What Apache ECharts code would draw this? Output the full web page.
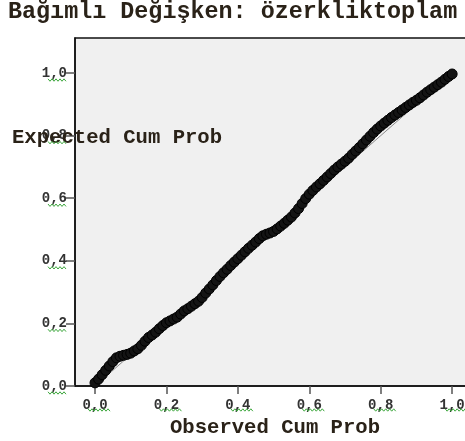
<!DOCTYPE html>
<html>
<head>
<meta charset="utf-8">
<script src="https://cdn.jsdelivr.net/npm/echarts@6/dist/echarts.min.js"></script>
<style>
  html, body { margin: 0; padding: 0; background: #fff; }
  #pp { width: 465px; height: 441px; }
</style>
</head>
<body>
<div id="pp"></div>
<script>
  // observed cum prob (x) / expected cum prob (y)
  var observed = [0.00,0.01,0.02,0.03,0.04,0.05,0.06,0.07,0.08,0.09,
    0.10,0.11,0.12,0.13,0.14,0.15,0.16,0.17,0.18,0.19,
    0.20,0.21,0.22,0.23,0.24,0.25,0.26,0.27,0.28,0.29,
    0.30,0.31,0.32,0.33,0.34,0.35,0.36,0.37,0.38,0.39,
    0.40,0.41,0.42,0.43,0.44,0.45,0.46,0.47,0.48,0.49,
    0.50,0.51,0.52,0.53,0.54,0.55,0.56,0.57,0.58,0.59,
    0.60,0.61,0.62,0.63,0.64,0.65,0.66,0.67,0.68,0.69,
    0.70,0.71,0.72,0.73,0.74,0.75,0.76,0.77,0.78,0.79,
    0.80,0.81,0.82,0.83,0.84,0.85,0.86,0.87,0.88,0.89,
    0.90,0.91,0.92,0.93,0.94,0.95,0.96,0.97,0.98,0.99,1.00];
  var expected = [0.010,0.022,0.036,0.050,0.064,0.078,0.090,0.095,0.098,0.101,
    0.105,0.112,0.119,0.130,0.143,0.155,0.163,0.172,0.183,0.193,
    0.202,0.208,0.214,0.220,0.230,0.240,0.247,0.255,0.263,0.271,
    0.283,0.297,0.310,0.323,0.337,0.350,0.362,0.373,0.385,0.396,
    0.407,0.418,0.429,0.440,0.450,0.460,0.471,0.480,0.485,0.489,
    0.494,0.502,0.511,0.520,0.530,0.540,0.553,0.567,0.583,0.599,
    0.613,0.625,0.636,0.646,0.657,0.668,0.679,0.690,0.700,0.709,
    0.718,0.728,0.740,0.751,0.762,0.774,0.786,0.798,0.810,0.821,
    0.831,0.840,0.849,0.858,0.866,0.874,0.882,0.890,0.898,0.906,
    0.913,0.921,0.930,0.939,0.947,0.955,0.963,0.971,0.980,0.989,0.997];
  var refX = [0, 1];
  var refY = [0, 1];
  var xTicks = [0, 0.2, 0.4, 0.6, 0.8, 1.0];
  var yTicks = [0, 0.2, 0.4, 0.6, 0.8, 1.0];

  var mono = 'Liberation Mono';
  var ink = '#2a2218';

  var pts = observed.map(function (v, i) { return [v, expected[i]]; });
  var refLine = refX.map(function (v, i) { return [v, refY[i]]; });

  function fmt(v) { return v.toFixed(1).replace('.', ','); }

  var chart = echarts.init(document.getElementById('pp'));
  var option = {
    animation: false,
    title: [
      {
        text: 'Bağımlı Değişken: özerkliktoplam',
        left: 3, top: -4,
        textStyle: { fontFamily: mono, fontWeight: 'bold', fontSize: 23.4, color: ink }
      },
      {
        text: 'Expected Cum Prob',
        left: 7, top: 122,
        textStyle: { fontFamily: mono, fontWeight: 'bold', fontSize: 20.6, color: ink }
      }
    ],
    grid: {
      left: 75, top: 38, width: 400, height: 348,
      outerBoundsMode: 'none',
      show: true,
      backgroundColor: '#f0f0f0',
      borderColor: '#111',
      borderWidth: 1.5
    },
    xAxis: {
      type: 'value',
      min: -0.056, max: 1.064,
      name: 'Observed Cum Prob',
      nameLocation: 'middle',
      nameGap: 31,
      nameTextStyle: { fontFamily: mono, fontWeight: 'bold', fontSize: 20.6, color: ink },
      axisLine: { show: true, onZero: false, lineStyle: { color: '#111', width: 1.5 } },
      axisTick: { show: true, length: 8, customValues: xTicks, lineStyle: { color: '#555', width: 1.5 } },
      axisLabel: {
        customValues: xTicks, margin: 12, formatter: fmt,
        fontFamily: mono, fontWeight: 'bold', fontSize: 14, color: '#333'
      },
      splitLine: { show: false }
    },
    yAxis: {
      type: 'value',
      min: 0, max: 1.112,
      axisLine: { show: true, onZero: false, lineStyle: { color: '#111', width: 1.5 } },
      axisTick: { show: true, length: 9, customValues: yTicks, lineStyle: { color: '#555', width: 1.5 } },
      axisLabel: {
        customValues: yTicks, margin: 8, formatter: fmt,
        fontFamily: mono, fontWeight: 'bold', fontSize: 14, color: '#333'
      },
      splitLine: { show: false }
    },
    series: [
      {
        type: 'line',
        data: refLine,
        showSymbol: false,
        lineStyle: { color: '#8a8a8a', width: 1 },
        z: 1
      },
      {
        type: 'scatter',
        data: pts,
        symbolSize: 10,
        itemStyle: { color: '#141414', borderColor: '#000', borderWidth: 1, opacity: 1 },
        z: 2
      }
    ]
  };
  chart.setOption(option);

  // green spell-check squiggles under the ",0" part of the tick labels
  function squiggle(x0, x1, y) {
    var p = [], up = true;
    for (var x = x0; x <= x1; x += 2) {
      p.push([x, y + (up ? -1.2 : 1.2)]);
      up = !up;
    }
    return {
      type: 'polyline',
      shape: { points: p },
      style: { stroke: '#3aa53a', lineWidth: 1, fill: null },
      silent: true, z: 10
    };
  }
  var marks = [];
  xTicks.forEach(function (v) {
    var px = chart.convertToPixel({ xAxisIndex: 0 }, v);
    marks.push(squiggle(px - 7, px + 15, 410));
  });
  yTicks.forEach(function (v) {
    var py = chart.convertToPixel({ yAxisIndex: 0 }, v);
    marks.push(squiggle(48, 67, py + 7));
  });
  chart.setOption({ graphic: marks });
</script>
</body>
</html>
